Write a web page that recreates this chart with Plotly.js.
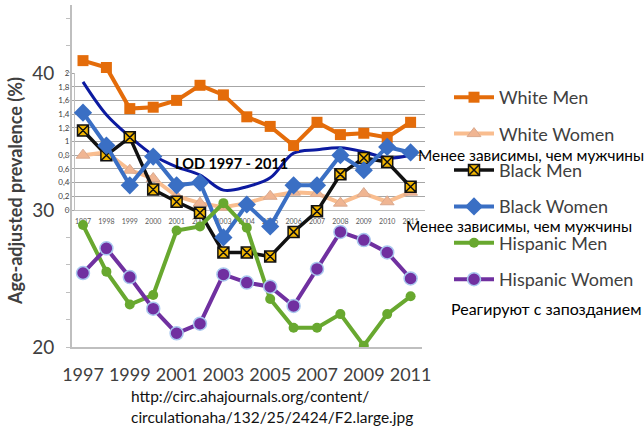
<!DOCTYPE html>
<html>
<head>
<meta charset="utf-8">
<script src="https://cdn.plot.ly/plotly-3.0.1.min.js"></script>
<style>html,body{margin:0;padding:0;background:#fff;}#chart{width:644px;height:428px;}</style>
</head>
<body>
<div id="chart"></div>
<script>
// ---- data ----
const years = [1997,1998,1999,2000,2001,2002,2003,2004,2005,2006,2007,2008,2009,2010,2011];
const whiteMen   = [40.9,40.4,37.4,37.5,38.0,39.1,38.4,36.8,36.1,34.7,36.4,35.5,35.6,35.3,36.4];
const whiteWomen = [34.0,34.2,32.9,32.3,31.0,30.5,30.2,30.5,31.0,31.3,31.2,30.5,31.2,30.6,31.3];
const blackMen   = [35.8,34.0,35.3,31.5,30.6,29.8,26.9,26.9,26.6,28.4,29.9,32.6,33.8,33.5,31.7];
const blackWomen = [37.1,34.7,31.8,33.9,31.8,32.0,28.0,30.4,28.8,31.8,31.8,34.0,32.9,34.6,34.2];
const hispMen    = [28.9,25.5,23.1,23.8,28.5,28.8,30.5,28.7,23.5,21.4,21.4,22.4,20.1,22.4,23.7];
const hispWomen  = [25.4,27.2,25.1,22.8,21.0,21.7,25.3,24.7,24.4,23.0,25.7,28.4,27.8,26.9,25.0];
const lod        = [1.87,1.39,1.07,0.80,0.63,0.51,0.29,0.34,0.47,0.83,0.88,0.91,0.85,0.76,0.80];

const seriesNames = ['White Men','White Women','Black Men','Black Women','Hispanic Men','Hispanic Women'];
const outerTickVals = [1997,1999,2001,2003,2005,2007,2009,2011];
const outerYVals = [20,22,24,26,28,30,32,34,36,38,40,42,44];
const outerYText = ['20','','','','','30','','','','','40','',''];
const insetYVals = [0,0.2,0.4,0.6,0.8,1,1.2,1.4,1.6,1.8,2];
const insetYText = ['0','0,2','0,4','0,6','0,8','1','1,2','1,4','1,6','1,8','2'];
const insetXText = years.map(String);
const yTitle = 'Age-adjusted prevalence (%)';
const lodLabel = 'LOD 1997 - 2011';
const noteLess = 'Менее зависимы, чем мужчины';
const noteLate = 'Реагируют с запозданием';
const urlLine1 = 'http://circ.ahajournals.org/content/';
const urlLine2 = 'circulationaha/132/25/2424/F2.large.jpg';

const W = 644, H = 428;
const px = v => v / W;
const py = v => 1 - v / H;
const FONT = 'Lato, "Open Sans", sans-serif';

const traces = [
  {x: years, y: lod, xaxis:'x', yaxis:'y', mode:'lines', showlegend:false,
   line:{color:'#0c1aa0', width:3, shape:'spline'}, hoverinfo:'skip'},
  {x: years, y: whiteMen, xaxis:'x2', yaxis:'y2', name: seriesNames[0], legendgroup:'a',
   mode:'lines+markers', line:{color:'#e46c0a', width:4},
   marker:{symbol:'square', size:11, color:'#e46c0a'}},
  {x: years, y: whiteWomen, xaxis:'x2', yaxis:'y2', name: seriesNames[1], legendgroup:'b',
   mode:'lines+markers', line:{color:'#f9bd8f', width:4},
   marker:{symbol:'triangle-up', size:12, color:'#f0b592', line:{color:'#d9a98f', width:1}}},
  {x: years, y: blackMen, xaxis:'x2', yaxis:'y2', name: seriesNames[2], legendgroup:'c',
   mode:'lines+markers', line:{color:'#111111', width:3.5},
   marker:{symbol:'square-x', size:11, color:'#f2b600', line:{color:'#111111', width:1.5}}},
  {x: years, y: blackWomen, xaxis:'x2', yaxis:'y2', name: seriesNames[3], legendgroup:'d',
   mode:'lines+markers', line:{color:'#3a6fc4', width:4},
   marker:{symbol:'diamond', size:14, color:'#3a6fc4'}},
  {x: years, y: hispMen, xaxis:'x2', yaxis:'y2', name: seriesNames[4], legendgroup:'e',
   mode:'lines+markers', line:{color:'#68a82f', width:4},
   marker:{symbol:'circle', size:10, color:'#68a82f'}},
  {x: years, y: hispWomen, xaxis:'x2', yaxis:'y2', name: seriesNames[5], legendgroup:'f',
   mode:'lines+markers', line:{color:'#7030a0', width:4},
   marker:{symbol:'circle', size:13, color:'#7030a0', line:{color:'#a9c8ef', width:1.5}}}
];

const ann = (text, x, y, size, extra) => Object.assign({
  text: text, xref:'paper', yref:'paper', x: px(x), y: py(y),
  xanchor:'left', yanchor:'middle', showarrow:false,
  font:{size:size, color:'#000000', family: FONT}
}, extra || {});

const layout = {
  width: W, height: H,
  margin: {l:0, r:0, t:0, b:0},
  paper_bgcolor: '#ffffff',
  plot_bgcolor: 'rgba(0,0,0,0)',
  font: {family: FONT, color:'#404040'},
  showlegend: true,
  legend: {x: px(449), y: py(79), xanchor:'left', yanchor:'top',
           font:{size:18, color:'#404040', family: FONT},
           tracegroupgap: 10, bgcolor:'rgba(0,0,0,0)', itemwidth:40},
  xaxis: {domain:[px(75), px(425)], range:[1996.658, 2011.615], anchor:'y',
          showgrid:false, zeroline:false, showline:true, linecolor:'#bfbfbf', linewidth:1,
          tickvals: years, ticktext: insetXText, ticks:'', ticklabelstandoff: 5,
          tickfont:{size:7, color:'#595959', family: FONT}},
  yaxis: {domain:[py(210), py(73)], range:[0,2], anchor:'x',
          showgrid:true, gridcolor:'#a6a6a6', gridwidth:1, zeroline:false,
          showline:true, linecolor:'#bfbfbf', linewidth:1,
          tickvals: insetYVals, ticktext: insetYText, ticks:'outside', ticklen:3, tickcolor:'#a6a6a6',
          tickfont:{size:8, color:'#404040', family: FONT}},
  xaxis2: {domain:[px(72), px(422)], range:[1996.530, 2011.487], anchor:'y2',
           showgrid:false, zeroline:false, showline:true, linecolor:'#bfbfbf', linewidth:2,
           tickvals: outerTickVals, ticks:'', ticklabelstandoff: 10,
           tickfont:{size:18, color:'#404040', family: FONT}},
  yaxis2: {domain:[py(347), py(5)], range:[20, 44.96], anchor:'x2',
           showgrid:false, zeroline:false, showline:true, linecolor:'#bfbfbf', linewidth:2,
           tickvals: outerYVals, ticktext: outerYText, ticks:'outside', ticklen:4, tickcolor:'#bfbfbf',
           ticklabelstandoff: 8,
           tickfont:{size:19, color:'#404040', family: FONT}},
  annotations: [
    ann('<b>'+yTitle+'</b>', 15, 191, 18, {xanchor:'center', textangle:-90, font:{size:18, color:'#404040', family: FONT}}),
    ann('<b>'+lodLabel+'</b>', 231, 163, 14.5, {xanchor:'center'}),
    ann(noteLess, 416, 155, 15.4),
    ann(noteLess, 404, 226, 15.4),
    ann(noteLate, 449, 308, 16),
    ann(urlLine1, 129, 396, 15.5, {font:{size:15.5, color:'#111111', family: FONT}}),
    ann(urlLine2, 129, 417, 15.5, {font:{size:15.5, color:'#111111', family: FONT}})
  ]
};

Plotly.newPlot('chart', traces, layout, {staticPlot:true, displayModeBar:false});
</script>
</body>
</html>
